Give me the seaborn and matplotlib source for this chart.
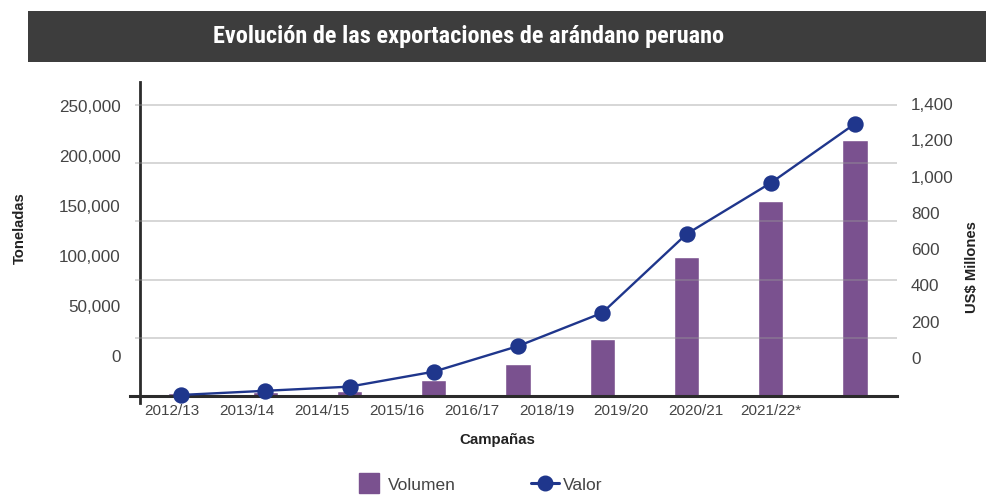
import numpy as np
import pandas as pd
import matplotlib
matplotlib.use("Agg")
import matplotlib.pyplot as plt
from matplotlib.patches import Rectangle
from matplotlib.lines import Line2D
import seaborn as sns

# ---- data ----
campanas = ["2012/13", "2013/14", "2014/15", "2015/16", "2016/17",
            "2018/19", "2019/20", "2020/21", "2021/22*"]
volumen_t = [2800, 3700, 4500, 13700, 27500, 49000, 119700, 167500, 220000]
valor_musd = [5, 25, 45, 117, 240, 400, 779, 1025, 1310]

left_ticks = [0, 50000, 100000, 150000, 200000, 250000]
right_ticks = [0, 200, 400, 600, 800, 1000, 1200, 1400]

title = "Evolución de las exportaciones de arándano peruano"

BAR_C = "#7a518f"
LINE_C = "#1f368c"
TXT_C = "#444444"
SPINE_C = "#2b2b2b"

sns.set_theme(style="white")
plt.rcParams["font.family"] = ["Liberation Sans", "DejaVu Sans"]

W, H = 986, 503
fig = plt.figure(figsize=(W / 100, H / 100), dpi=100)

def px_x(x):
    return x / W

def px_y(y):
    return 1 - y / H

# axes box (pixels): x 130..897, y 82..403
ax = fig.add_axes([px_x(130), px_y(403), px_x(897) - px_x(130), (403 - 82) / H])
ax2 = ax.twinx()

df = pd.DataFrame({"campana": campanas, "volumen": volumen_t, "valor": valor_musd})

sns.barplot(data=df, x="campana", y="volumen", ax=ax, color=BAR_C,
            width=0.30, saturation=1, zorder=2)
sns.pointplot(data=df, x="campana", y="valor", ax=ax2, color=LINE_C,
              markers="o", markersize=10.5, linewidth=1.7, errorbar=None)

# scales: 0 at baseline px 396, 250,000 / 1,400 at px 105
step = 84.25
x0 = 181
xl = ((130 - x0) / step, (897 - x0) / step)
ax.set_xlim(*xl)
ax2.set_xlim(*xl)
lper = 250000 / 291.0
rper = 1400 / 291.0
ax.set_ylim(-(403 - 396) * lper, (396 - 82) * lper)
ax2.set_ylim(-(403 - 396) * rper, (396 - 82) * rper)

# gridlines
spine_x = (140 - x0) / step
ax.hlines(left_ticks[1:], xmin=(135 - x0) / step, xmax=xl[1], colors="#999999",
          alpha=0.5, linewidth=1.1, zorder=3, clip_on=False)

# spines
for s in ["top", "right"]:
    ax.spines[s].set_visible(False)
for s in ax2.spines.values():
    s.set_visible(False)
ax.spines["left"].set_position(("data", spine_x))
ax.spines["left"].set_color(SPINE_C)
ax.spines["left"].set_linewidth(2.0)
ax.spines["bottom"].set_position(("data", 0))
ax.spines["bottom"].set_color(SPINE_C)
ax.spines["bottom"].set_linewidth(2.2)
ax.spines["bottom"].set_zorder(4)

# tick labels placed as in the reference
lab_y_left = [34400 + 0.859 * v for v in left_ticks]
ax.set_yticks(lab_y_left, [f"{v:,}" for v in left_ticks])
ax.tick_params(axis="y", length=0, pad=14, labelsize=12.3, labelcolor=TXT_C)

lab_y_right = [(396 - 358) * rper + v * (36.3 / 200 * rper) for v in right_ticks]
ax2.set_yticks(lab_y_right, [f"{v:,}" for v in right_ticks])
ax2.tick_params(axis="y", length=0, pad=10, labelsize=12.3, labelcolor=TXT_C)

lab_x = [(172 - x0) / step + i * (74.875 / step) for i in range(len(campanas))]
ax.set_xticks(lab_x, campanas)
ax.tick_params(axis="x", length=0, pad=6, labelsize=11, labelcolor=TXT_C)

ax.set_xlabel("")
ax.set_ylabel("")
ax2.set_ylabel("")
ax.grid(False)
ax2.grid(False)

# axis titles
fig.text(px_x(497), px_y(440), "Campañas", ha="center", va="center",
         fontsize=10.8, fontweight="bold", color="#222222")
fig.text(px_x(20), px_y(228), "Toneladas", ha="center", va="center",
         rotation=90, fontsize=10.6, fontweight="bold", color="#222222")
fig.text(px_x(972), px_y(267), "US$ Millones", ha="center", va="center",
         rotation=90, fontsize=10.6, fontweight="bold", color="#222222")

# title bar
fig.patches.append(Rectangle((px_x(28), px_y(62)), 1 - px_x(28), (62 - 11) / H,
                             transform=fig.transFigure, facecolor="#3d3d3d",
                             edgecolor="none", zorder=0))
fig.text(px_x(469), px_y(43), title, ha="center", va="baseline",
         fontsize=17.5, fontweight="bold", color="white",
         family=["Liberation Sans Narrow", "Roboto Condensed", "DejaVu Sans"])

# legend
handles = [
    Line2D([], [], linestyle="none", marker="s", markersize=14,
           markerfacecolor=BAR_C, markeredgecolor=BAR_C),
    Line2D([], [], color=LINE_C, linewidth=2.2, marker="o", markersize=10.5,
           markerfacecolor=LINE_C, markeredgecolor=LINE_C),
]
fig.legend(handles, ["Volumen", "Valor"], loc="center",
           bbox_to_anchor=(px_x(479), px_y(485)), ncol=2, frameon=False,
           handlelength=1.6, handletextpad=0.25, columnspacing=4.35,
           prop={"size": 12.5}, labelcolor=TXT_C)

fig.savefig("out.png", dpi=100)
